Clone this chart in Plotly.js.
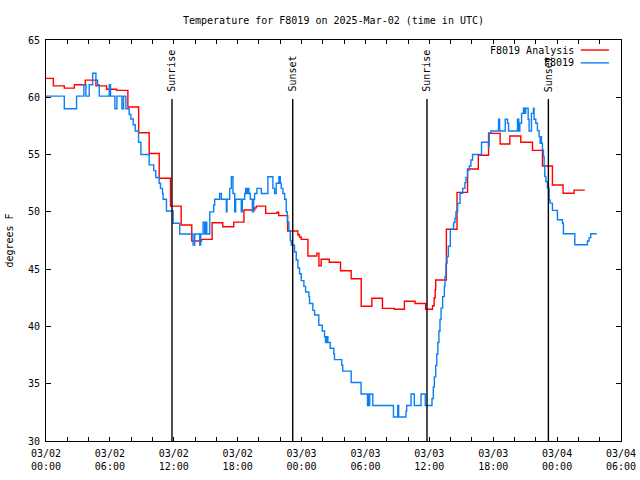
<!DOCTYPE html>
<html>
<head>
<meta charset="utf-8">
<script src="https://cdn.plot.ly/plotly-3.0.1.min.js"></script>
<style>html,body{margin:0;padding:0;background:#fff;}#chart{width:640px;height:480px;}</style>
</head>
<body>
<div id="chart"></div>
<script>
// Hours after 2025-03-02 00:00 UTC
const startDate = Date.UTC(2025, 2, 2);

const analysisHours = [0, 0.69, 1.72, 2.66, 3.69, 4.69, 5.69, 6.63, 7.69, 8.7, 9.69, 10.63, 11.69, 12.69, 13.69, 14.6, 15.6, 16.6, 17.63, 18.59, 19.6, 19.75, 20.63, 21.69, 21.85, 22.7, 23.65, 23.8, 23.97, 24.6, 25.44, 25.63, 25.84, 26.6, 27.66, 28.66, 29.6, 30.6, 31.6, 32.7, 33.66, 34.66, 35.65, 36.3, 36.45, 36.55, 36.6, 37.6, 38.6, 39.59, 40.6, 41.56, 42.65, 43.56, 44.59, 45.69, 46.62, 47.56, 48.56, 49.59, 50.6];
const analysisTemp = [61.65, 61.0, 60.8, 61.1, 61.5, 61.0, 60.7, 60.6, 59.15, 56.9, 55.1, 52.93, 50.5, 48.85, 47.46, 47.6, 49.05, 48.7, 49.1, 50.16, 50.35, 50.5, 49.87, 49.96, 49.67, 48.33, 48.0, 47.8, 47.6, 46.15, 46.4, 45.3, 45.86, 45.6, 44.86, 44.16, 41.76, 42.46, 41.58, 41.5, 42.2, 42.0, 41.5, 41.8, 42.5, 43.2, 44.05, 48.48, 51.7, 53.74, 54.94, 56.85, 55.92, 56.62, 56.07, 55.37, 54.0, 52.34, 51.62, 51.9, 51.9];

const obsHours = [0, 1.72, 2.87, 3.56, 3.75, 4.06, 4.38, 4.69, 4.84, 5.0, 5.94, 6.06, 6.47, 6.66, 7.13, 7.28, 7.5, 7.81, 7.97, 8.19, 8.38, 8.69, 8.91, 9.69, 10.12, 10.31, 10.63, 10.75, 10.94, 11.0, 11.31, 11.94, 12.56, 13.81, 13.97, 14.44, 14.53, 14.75, 14.9, 15.0, 15.1, 15.38, 15.75, 15.84, 16.31, 16.47, 16.94, 17.0, 17.25, 17.41, 17.56, 17.72, 17.81, 18.34, 18.44, 18.66, 18.75, 18.88, 18.97, 19.06, 19.19, 19.38, 19.5, 19.59, 19.81, 20.22, 20.84, 21.31, 21.47, 21.62, 21.87, 22.0, 22.09, 22.25, 22.41, 22.56, 22.66, 22.81, 22.94, 23.03, 23.34, 23.5, 23.66, 23.81, 23.97, 24.22, 24.38, 24.69, 24.75, 25.06, 25.22, 25.62, 25.94, 26.16, 26.25, 26.37, 26.47, 26.69, 27.03, 27.09, 27.78, 27.87, 28.66, 29.59, 30.19, 30.28, 30.34, 30.4, 30.69, 32.63, 33.03, 33.12, 33.81, 33.87, 34.28, 34.59, 35.22, 35.62, 36.25, 36.37, 36.47, 36.6, 36.7, 36.8, 36.9, 37.0, 37.1, 37.25, 37.41, 37.47, 37.56, 37.66, 37.78, 37.97, 38.28, 38.41, 38.5, 38.66, 38.88, 39.13, 39.34, 39.44, 39.59, 39.75, 39.91, 40.06, 40.9, 41.56, 41.62, 41.78, 42.5, 42.6, 43.13, 43.34, 43.44, 44.28, 44.4, 44.5, 44.66, 44.84, 44.97, 45.05, 45.28, 45.37, 45.59, 45.78, 45.84, 46.0, 46.15, 46.31, 46.41, 46.45, 46.53, 46.62, 46.72, 46.78, 46.84, 46.94, 47.09, 47.25, 47.34, 47.56, 48.03, 48.5, 48.59, 49.66, 50.69, 50.85, 51.0, 51.16, 51.72];
const obsTemp = [60.1, 59.0, 60.1, 61.1, 60.1, 61.1, 62.1, 61.5, 61.1, 60.1, 61.1, 60.1, 59.0, 60.1, 59.0, 60.1, 59.0, 58.5, 58.1, 57.6, 57.06, 56.07, 55.0, 54.1, 53.6, 53.0, 52.5, 52.05, 51.6, 51.1, 50.07, 49.0, 48.07, 47.1, 48.07, 47.1, 48.07, 49.1, 48.07, 49.1, 48.07, 50.0, 50.6, 51.1, 51.6, 51.1, 50.0, 51.1, 52.05, 53.07, 51.6, 50.0, 51.1, 50.0, 51.1, 51.6, 52.05, 51.6, 52.05, 51.6, 51.1, 50.0, 51.1, 51.6, 52.05, 51.6, 53.07, 52.05, 51.6, 52.5, 53.07, 52.5, 52.05, 51.6, 51.1, 50.0, 49.1, 48.3, 47.5, 47.1, 46.5, 45.8, 45.1, 44.6, 44.0, 43.5, 43.0, 42.6, 42.0, 41.4, 41.0, 40.1, 39.6, 39.1, 38.6, 39.1, 38.6, 38.1, 37.6, 37.1, 36.6, 36.1, 35.1, 34.1, 33.1, 34.1, 33.1, 34.1, 33.1, 32.1, 33.1, 32.1, 32.6, 33.1, 34.1, 33.1, 34.1, 33.1, 33.7, 34.7, 35.6, 36.6, 37.6, 38.6, 39.6, 40.6, 41.6, 42.6, 43.5, 44.35, 45.5, 46.1, 47.0, 48.48, 49.06, 49.44, 50.02, 50.74, 51.62, 52.05, 52.55, 53.01, 53.65, 54.0, 54.53, 55.0, 56.07, 55.7, 56.9, 57.06, 58.08, 57.06, 58.08, 57.73, 57.06, 58.08, 57.06, 57.73, 58.6, 59.04, 58.6, 59.04, 58.08, 57.06, 58.6, 59.04, 58.08, 57.73, 57.09, 56.57, 55.99, 56.57, 55.99, 55.41, 54.83, 54.0, 53.1, 52.65, 52.07, 51.05, 50.76, 50.13, 49.31, 49.0, 48.09, 47.13, 47.13, 47.45, 47.75, 48.09, 48.09];

const sunHours = [11.83, 23.17, 35.78, 47.18];
const sunLabels = ["Sunrise", "Sunset", "Sunrise", "Sunset"];

const seriesNames = ["F8019 Analysis", "F8019"];
const seriesColors = ["#ff0000", "#0a7ff5"];

const xTickFormat = "%m/%d<br>%H:%M";

function toDate(h) {
  const d = new Date(startDate + Math.round(h * 3600000));
  return d.toISOString().slice(0, 19).replace("T", " ");
}

const FONT = "DejaVu Sans Mono, monospace";

const traces = [
  {x: analysisHours.map(toDate), y: analysisTemp, name: seriesNames[0], type: "scatter", mode: "lines",
   line: {color: seriesColors[0], width: 1.4, shape: "hv"}},
  {x: obsHours.map(toDate), y: obsTemp, name: seriesNames[1], type: "scatter", mode: "lines",
   line: {color: seriesColors[1], width: 1.4, shape: "hv"}}
];

const shapes = [];
const annotations = [];
sunHours.forEach((h, i) => {
  shapes.push({type: "line", xref: "x", yref: "y", x0: toDate(h), x1: toDate(h), y0: 30, y1: 59.85,
    line: {color: "black", width: 1.4}});
  annotations.push({xref: "x", yref: "y", x: toDate(h), y: 60.3, text: sunLabels[i], textangle: -90,
    showarrow: false, xanchor: "center", yanchor: "bottom", font: {family: FONT, size: 10, color: "black"}});
});

// gnuplot-style legend: text right-justified, sample line to the right
const legendY = [0.975, 0.943];
seriesNames.forEach((n, i) => {
  annotations.push({xref: "paper", yref: "paper", x: 0.921, y: legendY[i], text: n, showarrow: false,
    xanchor: "right", yanchor: "middle", font: {family: FONT, size: 10, color: "black"}});
  shapes.push({type: "line", xref: "paper", yref: "paper", x0: 0.930, x1: 0.979, y0: legendY[i], y1: legendY[i],
    line: {color: seriesColors[i], width: 1.4}});
});

const layout = {
  width: 640, height: 480,
  margin: {l: 46, r: 19, t: 40, b: 39},
  paper_bgcolor: "white", plot_bgcolor: "white",
  font: {family: FONT, size: 10, color: "black"},
  showlegend: false,
  title: {text: "Temperature for F8019 on 2025-Mar-02 (time in UTC)", x: 0.5, xref: "paper",
          y: 1 - 20 / 480, yref: "container", yanchor: "middle", font: {family: FONT, size: 10, color: "black"}},
  xaxis: {type: "date", range: [toDate(0), toDate(54)], tick0: toDate(0), dtick: 21600000,
          tickformat: xTickFormat, ticks: "inside", ticklen: 4, tickcolor: "black", tickwidth: 1,
          ticklabelstandoff: 3,
          showline: true, linecolor: "black", linewidth: 1, mirror: "ticks", showgrid: false, zeroline: false,
          minor: {dtick: 7200000, ticks: "inside", ticklen: 4, tickcolor: "black", showgrid: false},
          tickfont: {family: FONT, size: 10, color: "black"}},
  yaxis: {range: [30, 65], dtick: 5, ticks: "inside", ticklen: 5, tickcolor: "black", tickwidth: 1,
          ticklabelstandoff: 3,
          showline: true, linecolor: "black", linewidth: 1, mirror: "ticks", showgrid: false, zeroline: false,
          tickfont: {family: FONT, size: 10, color: "black"},
          title: {text: "degrees F", standoff: 12, font: {family: FONT, size: 10, color: "black"}}},
  shapes: shapes,
  annotations: annotations
};

Plotly.newPlot("chart", traces, layout, {displayModeBar: false, staticPlot: true});
</script>
</body>
</html>
